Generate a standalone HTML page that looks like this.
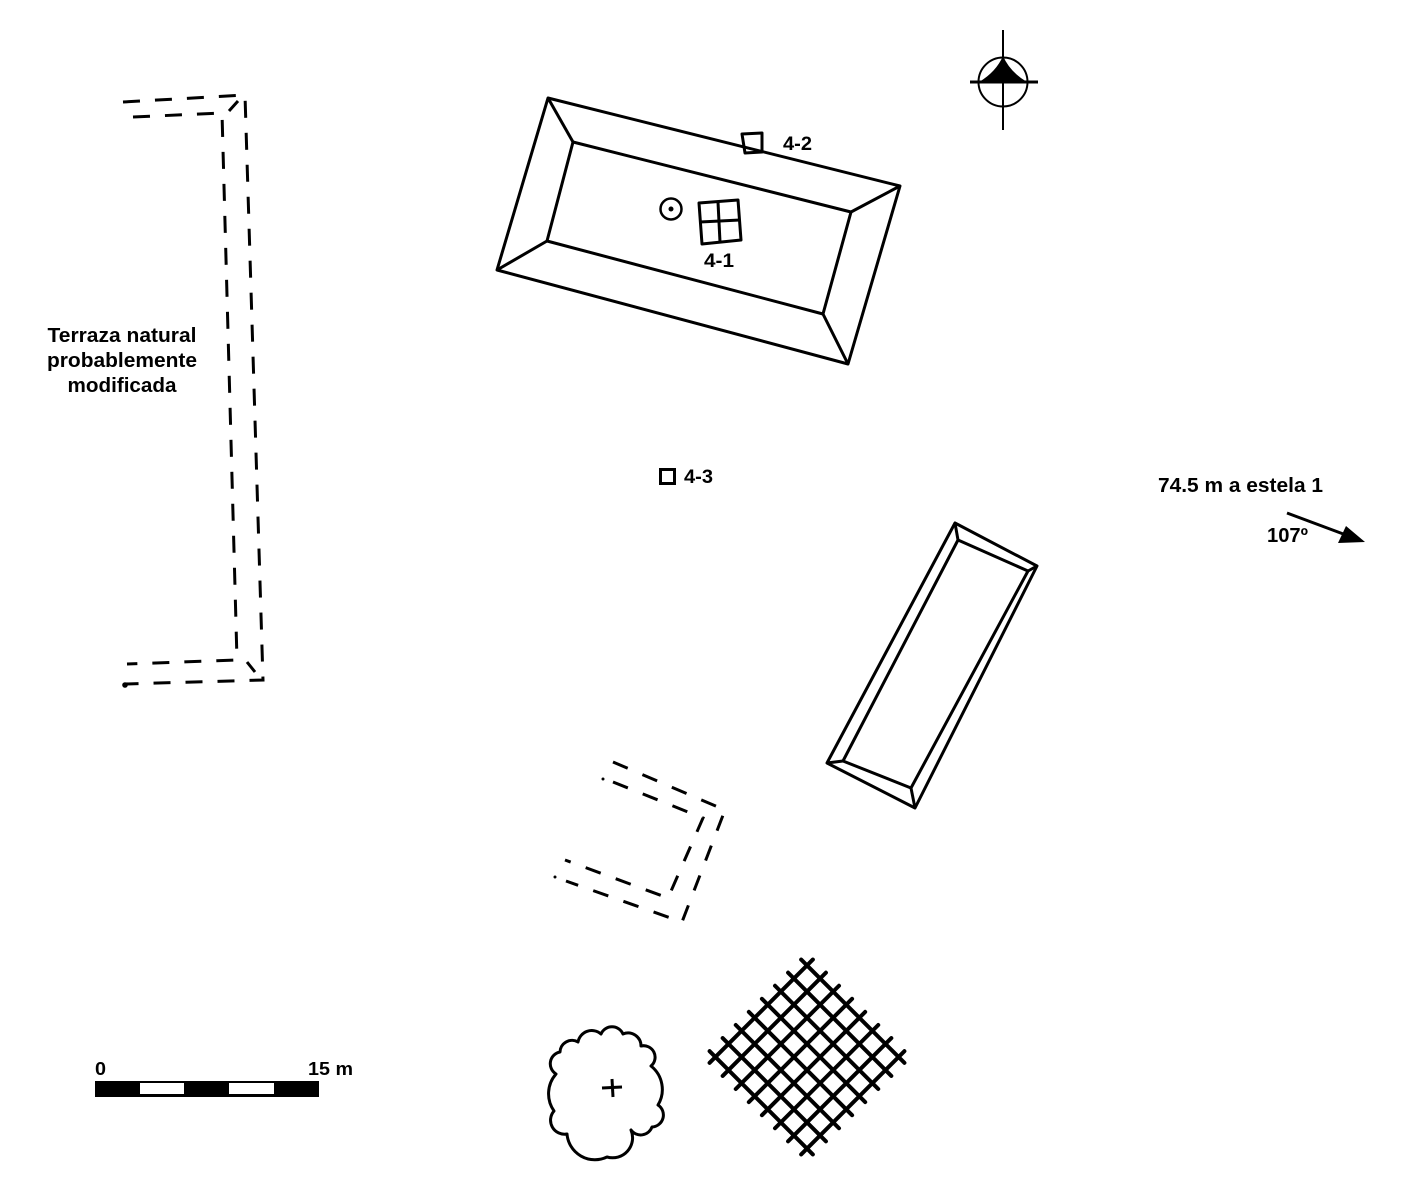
<!DOCTYPE html>
<html>
<head>
<meta charset="utf-8">
<style>
  html, body { margin:0; padding:0; background:#fff; }
  svg { display:block; }
  text { font-family: "Liberation Sans", Arial, sans-serif; font-weight: bold; fill:#000; }
</style>
</head>
<body>
<svg width="1405" height="1189" viewBox="0 0 1405 1189" xmlns="http://www.w3.org/2000/svg">
  <rect x="0" y="0" width="1405" height="1189" fill="#fff"/>

  <!-- North arrow -->
  <g stroke="#000" fill="none">
    <line x1="1003" y1="30" x2="1003" y2="130" stroke-width="2"/>
    <line x1="970" y1="82" x2="1038" y2="82" stroke-width="3"/>
    <circle cx="1003" cy="82" r="24.5" stroke-width="2"/>
  </g>
  <path d="M1003 56 Q996 72 979 82 L1027 82 Q1010 72 1003 56 Z" fill="#000"/>

  <!-- Terrace dashed outline -->
  <g stroke="#000" stroke-width="3" fill="none" stroke-dasharray="17 15">
    <polyline points="123,102 245,95 263,680 125,684"/>
    <polyline points="133,117 222,113 237,660 127,664"/>
  </g>
  <g stroke="#000" stroke-width="3" fill="none">
    <line x1="229" y1="111" x2="238" y2="101"/>
    <line x1="247" y1="662" x2="255" y2="672"/>
    <circle cx="125" cy="685" r="1.3" fill="#000"/>
  </g>
  <text x="122" y="342" font-size="20" text-anchor="middle" textLength="149" lengthAdjust="spacingAndGlyphs">Terraza natural</text>
  <text x="122" y="367" font-size="20" text-anchor="middle" textLength="150" lengthAdjust="spacingAndGlyphs">probablemente</text>
  <text x="122" y="392" font-size="20" text-anchor="middle" textLength="109" lengthAdjust="spacingAndGlyphs">modificada</text>

  <!-- Big platform -->
  <g stroke="#000" stroke-width="3" fill="none" stroke-linejoin="round">
    <polygon points="548,98 900,186 848,364 497,270"/>
    <polygon points="573,142 851,212 823,314 547,241"/>
    <line x1="548" y1="98" x2="573" y2="142"/>
    <line x1="900" y1="186" x2="851" y2="212"/>
    <line x1="848" y1="364" x2="823" y2="314"/>
    <line x1="497" y1="270" x2="547" y2="241"/>
    <!-- 4-2 -->
    <polygon points="742,134 762,133 762,152 745,153"/>
    <!-- circle -->
    <circle cx="671" cy="209" r="10.5" stroke-width="2.5"/>
    <!-- 4-1 window -->
    <polygon points="699,203 738,200 741,240 702,244"/>
    <line x1="718" y1="202" x2="720" y2="242"/>
    <line x1="700" y1="222" x2="740" y2="220"/>
  </g>
  <circle cx="671" cy="209" r="2.5" fill="#000"/>
  <text x="783" y="150" font-size="19" textLength="29" lengthAdjust="spacingAndGlyphs">4-2</text>
  <text x="704" y="267" font-size="19" textLength="30" lengthAdjust="spacingAndGlyphs">4-1</text>

  <!-- 4-3 -->
  <rect x="660.5" y="469.5" width="14" height="14" fill="none" stroke="#000" stroke-width="3"/>
  <text x="684" y="483" font-size="19" textLength="29" lengthAdjust="spacingAndGlyphs">4-3</text>

  <!-- Stela direction -->
  <text x="1158" y="492" font-size="20" textLength="165" lengthAdjust="spacingAndGlyphs">74.5 m a estela 1</text>
  <text x="1267" y="542" font-size="20" textLength="41" lengthAdjust="spacingAndGlyphs">107º</text>
  <line x1="1287" y1="513" x2="1346" y2="535" stroke="#000" stroke-width="3"/>
  <polygon points="1365,542 1338,543 1346,526" fill="#000"/>

  <!-- Small platform -->
  <g stroke="#000" stroke-width="3" fill="none" stroke-linejoin="round">
    <polygon points="955,523 1037,566 915,808 827,763"/>
    <polygon points="958,540 1028,571 911,788 843,761"/>
    <line x1="955" y1="523" x2="958" y2="540"/>
    <line x1="1037" y1="566" x2="1028" y2="571"/>
    <line x1="915" y1="808" x2="911" y2="788"/>
    <line x1="827" y1="763" x2="843" y2="761"/>
  </g>

  <!-- Dashed U structure -->
  <g stroke="#000" stroke-width="3" fill="none" stroke-dasharray="16 16">
    <polyline points="613,762 725,810 682,922 566,881"/>
    <polyline points="613,782 703,818 668,898 565,860"/>
  </g>
  <circle cx="555" cy="877" r="1.5" fill="#000"/>
  <circle cx="603" cy="779" r="1.5" fill="#000"/>

  <!-- Cross-hatched grid -->
  <g transform="translate(807,1057) rotate(45)" stroke="#000" stroke-width="4" stroke-linecap="round">
    <line x1="-64.75" y1="-73" x2="-64.75" y2="73"/>
    <line x1="-46.25" y1="-73" x2="-46.25" y2="73"/>
    <line x1="-27.75" y1="-73" x2="-27.75" y2="73"/>
    <line x1="-9.25" y1="-73" x2="-9.25" y2="73"/>
    <line x1="9.25" y1="-73" x2="9.25" y2="73"/>
    <line x1="27.75" y1="-73" x2="27.75" y2="73"/>
    <line x1="46.25" y1="-73" x2="46.25" y2="73"/>
    <line x1="64.75" y1="-73" x2="64.75" y2="73"/>
    <line y1="-64.75" x1="-73" y2="-64.75" x2="73"/>
    <line y1="-46.25" x1="-73" y2="-46.25" x2="73"/>
    <line y1="-27.75" x1="-73" y2="-27.75" x2="73"/>
    <line y1="-9.25" x1="-73" y2="-9.25" x2="73"/>
    <line y1="9.25" x1="-73" y2="9.25" x2="73"/>
    <line y1="27.75" x1="-73" y2="27.75" x2="73"/>
    <line y1="46.25" x1="-73" y2="46.25" x2="73"/>
    <line y1="64.75" x1="-73" y2="64.75" x2="73"/>
  </g>

  <!-- Tree -->
  <path d="M578 1042 A14 14 0 0 1 601 1034 A12 12 0 0 1 623 1034 A13 13 0 0 1 641 1046 A11.5 11.5 0 0 1 651 1066 A30 30 0 0 1 658 1105 A12 12 0 0 1 652 1127 A12 12 0 0 1 631 1130 A20 20 0 0 1 607 1157 A28 28 0 0 1 567 1134 A14 14 0 0 1 554 1111 A30 30 0 0 1 556 1074 A12 12 0 0 1 560 1052 A12 12 0 0 1 578 1042 Z" fill="none" stroke="#000" stroke-width="3" stroke-linejoin="round"/>
  <g stroke="#000" stroke-width="3">
    <line x1="602" y1="1088" x2="622" y2="1087"/>
    <line x1="612" y1="1079" x2="613" y2="1097"/>
  </g>

  <!-- Scale bar -->
  <rect x="95" y="1081" width="224" height="16" fill="#000"/>
  <rect x="140" y="1083" width="44" height="11" fill="#fff"/>
  <rect x="229" y="1083" width="45" height="11" fill="#fff"/>
  <text x="95" y="1075" font-size="18" textLength="11" lengthAdjust="spacingAndGlyphs">0</text>
  <text x="308" y="1075" font-size="18" textLength="45" lengthAdjust="spacingAndGlyphs">15 m</text>
</svg>
</body>
</html>
